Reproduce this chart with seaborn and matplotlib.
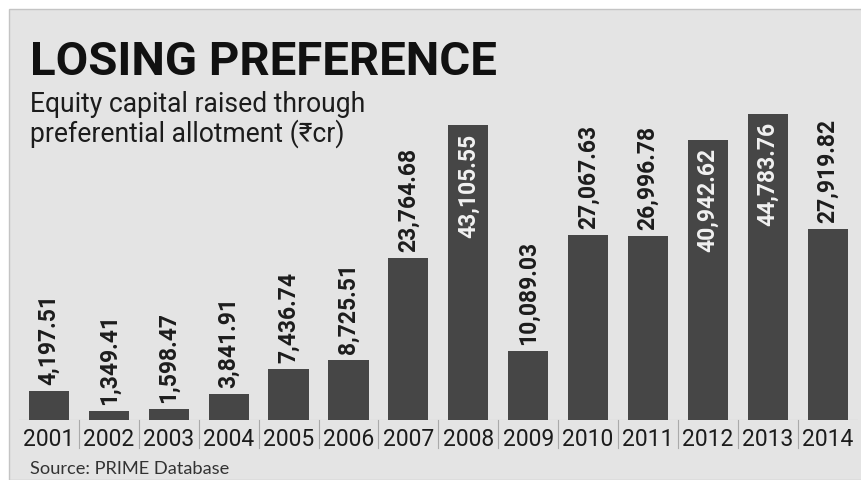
import matplotlib
matplotlib.use("Agg")
import matplotlib.pyplot as plt
from matplotlib import font_manager
from matplotlib.patches import Rectangle
import seaborn as sns
import pandas as pd

# data
years = ["2001", "2002", "2003", "2004", "2005", "2006", "2007",
         "2008", "2009", "2010", "2011", "2012", "2013", "2014"]
values = [4197.51, 1349.41, 1598.47, 3841.91, 7436.74, 8725.51, 23764.68,
          43105.55, 10089.03, 27067.63, 26996.78, 40942.62, 44783.76, 27919.82]
value_labels = ["4,197.51", "1,349.41", "1,598.47", "3,841.91", "7,436.74", "8,725.51", "23,764.68",
                "43,105.55", "10,089.03", "27,067.63", "26,996.78", "40,942.62", "44,783.76", "27,919.82"]
title = "LOSING PREFERENCE"
subtitle_1 = "Equity capital raised through"
subtitle_2 = "preferential allotment (₹cr)"
source = "Source: PRIME Database"

installed = {f.name for f in font_manager.fontManager.ttflist}
def pick(*names):
    for n in names:
        if n in installed:
            return n
    return "DejaVu Sans"

narrow = pick("Liberation Sans Narrow", "Roboto", "Lato")
plain = pick("Lato", "Open Sans", "DejaVu Sans")

BG = "#e4e4e4"
BAR = "#464646"
INK = "#1c1c1c"

W, H = 862, 481
fig = plt.figure(figsize=(W / 100, H / 100), dpi=100, facecolor="white")
fig.patches.append(Rectangle((9 / W, 0), 1, (H - 10) / H, transform=fig.transFigure,
                             facecolor=BG, edgecolor="#c4c4c4", lw=1, zorder=-5))

ax = fig.add_axes([19 / W, (H - 421) / H, 838.6 / W, 361 / H])
ax.set_facecolor("none")

df = pd.DataFrame({"year": years, "value": values})
sns.barplot(data=df, x="year", y="value", color=BAR, saturation=1, width=0.67, ax=ax)

ax.set_xlim(-0.5, 13.5)
ax.set_ylim(0, 52830)
for s in ax.spines.values():
    s.set_visible(False)
ax.set_yticks([])
ax.set_xlabel("")
ax.set_ylabel("")
ax.tick_params(axis="x", length=0, pad=5)
ax.set_xticks(range(len(years)))
ax.set_xticklabels(years, fontsize=16.5, family=narrow, color=INK)

# baseline and separators between the year labels
ax.axhline(0, color="#b8b8b8", lw=0.8, zorder=0)
for i in range(len(years) - 1):
    ax.plot([i + 0.5, i + 0.5], [0, -0.078], transform=ax.get_xaxis_transform(),
            color="#aaaaaa", lw=0.8, clip_on=False)

for i, (v, lab) in enumerate(zip(values, value_labels)):
    if v > 30000:
        ax.annotate(lab, (i, v), xytext=(0, -5), textcoords="offset points",
                    rotation=90, ha="center", va="top", fontsize=16.5,
                    family=narrow, weight="bold", color="#f2f2f2")
    else:
        ax.annotate(lab, (i, v), xytext=(0, 5), textcoords="offset points",
                    rotation=90, ha="center", va="bottom", fontsize=16.5,
                    family=narrow, weight="bold", color=INK)

renderer = fig.canvas.get_renderer()
def fit(t, width_px):
    w = t.get_window_extent(renderer).width
    t.set_fontsize(t.get_fontsize() * width_px / w)

t = fig.text(30 / W, (H - 75) / H, title, fontsize=36, weight="bold",
             family=narrow, color="#111111", va="baseline")
fit(t, 467)

s1 = fig.text(30 / W, (H - 112) / H, subtitle_1, fontsize=20,
              family=[narrow, "Noto Sans", "DejaVu Sans"], color=INK, va="baseline")
fit(s1, 335)
fig.text(30 / W, (H - 142) / H, subtitle_2, fontsize=s1.get_fontsize(),
         family=[narrow, "Noto Sans", "DejaVu Sans"], color=INK, va="baseline")

src = fig.text(30 / W, (H - 474) / H, source, fontsize=12,
               family=plain, color="#333333", va="baseline")
fit(src, 199)

fig.savefig("out.png", dpi=100, facecolor=fig.get_facecolor())
